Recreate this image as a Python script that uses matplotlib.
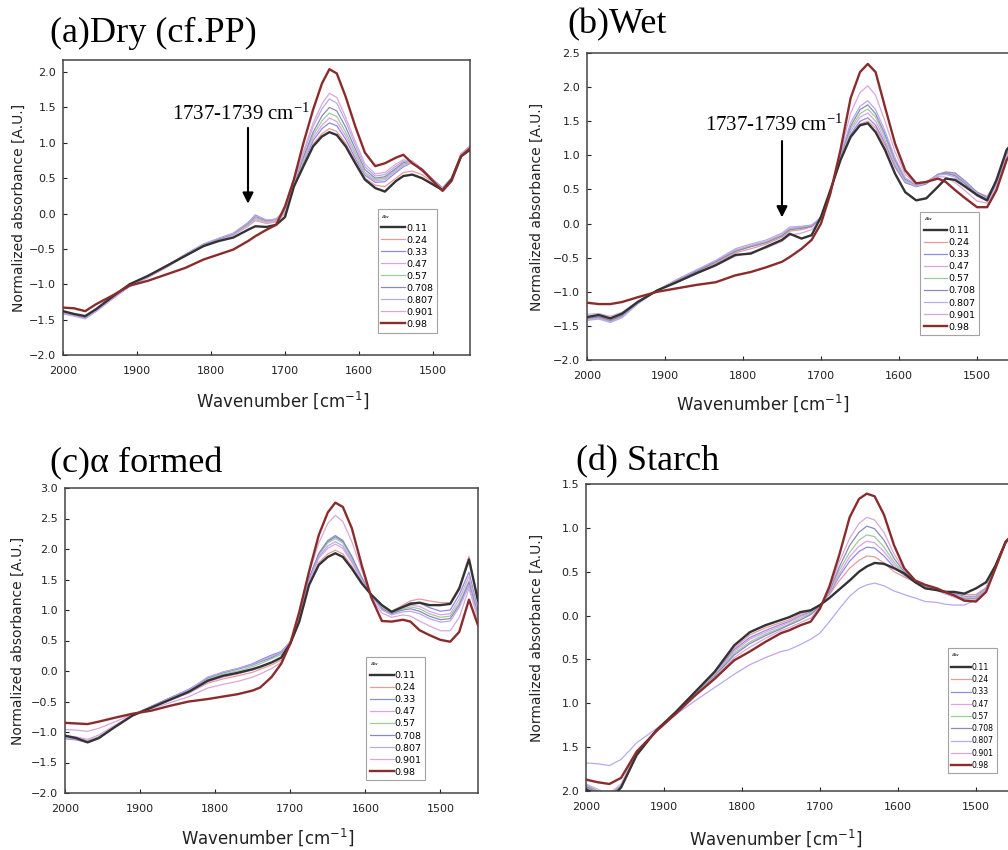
import matplotlib
matplotlib.use("Agg")
import matplotlib.pyplot as plt
from matplotlib.ticker import FuncFormatter

# shared wavenumber grid [cm-1]
wavenumber = [2000, 1985, 1970, 1955, 1935, 1910, 1885, 1860, 1835, 1810, 1790, 1770,
              1750, 1740, 1725, 1712, 1700, 1688, 1675, 1662, 1650, 1640, 1630, 1618,
              1605, 1592, 1578, 1565, 1550, 1540, 1528, 1515, 1500, 1487, 1475, 1462, 1450]

aw_labels = ["0.11", "0.24", "0.33", "0.47", "0.57", "0.708", "0.807", "0.901", "0.98"]
aw_colors = ["#333333", "#e89a9a", "#8c8ce0", "#e0a0e8", "#9ccc9c",
             "#8a8ab8", "#b8a8f0", "#d8a8d8", "#8b2c2c"]

# (a) Dry, one row per water activity
dry = [
    [-1.38, -1.42, -1.45, -1.35, -1.19, -1.00, -0.88, -0.74, -0.60, -0.46, -0.39, -0.34, -0.23, -0.18, -0.19, -0.16, -0.05,
     0.38, 0.67, 0.95, 1.09, 1.15, 1.11, 0.95, 0.71, 0.48, 0.36, 0.31, 0.46, 0.53, 0.55, 0.50, 0.41, 0.33, 0.48, 0.81, 0.90],
    [-1.40, -1.43, -1.46, -1.37, -1.21, -1.02, -0.90, -0.76, -0.60, -0.46, -0.38, -0.30, -0.18, -0.10, -0.14, -0.12, 0.00,
     0.39, 0.69, 0.98, 1.13, 1.20, 1.16, 0.99, 0.74, 0.50, 0.40, 0.38, 0.50, 0.58, 0.60, 0.55, 0.44, 0.34, 0.48, 0.82, 0.92],
    [-1.41, -1.44, -1.48, -1.38, -1.22, -1.03, -0.90, -0.75, -0.58, -0.43, -0.36, -0.28, -0.13, -0.02, -0.10, -0.08, 0.04,
     0.40, 0.72, 1.03, 1.20, 1.28, 1.24, 1.05, 0.78, 0.54, 0.44, 0.45, 0.58, 0.66, 0.72, 0.60, 0.46, 0.36, 0.50, 0.84, 0.95],
    [-1.40, -1.43, -1.47, -1.37, -1.21, -1.02, -0.90, -0.75, -0.59, -0.44, -0.37, -0.29, -0.15, -0.06, -0.11, -0.09, 0.03,
     0.41, 0.74, 1.07, 1.25, 1.35, 1.30, 1.10, 0.82, 0.56, 0.46, 0.48, 0.60, 0.68, 0.72, 0.62, 0.47, 0.36, 0.50, 0.83, 0.94],
    [-1.39, -1.43, -1.46, -1.36, -1.20, -1.02, -0.89, -0.75, -0.59, -0.45, -0.37, -0.30, -0.16, -0.07, -0.12, -0.10, 0.02,
     0.41, 0.77, 1.11, 1.31, 1.42, 1.37, 1.15, 0.86, 0.58, 0.48, 0.50, 0.62, 0.70, 0.72, 0.62, 0.47, 0.36, 0.50, 0.84, 0.95],
    [-1.41, -1.44, -1.47, -1.37, -1.21, -1.02, -0.89, -0.74, -0.58, -0.44, -0.36, -0.29, -0.14, -0.04, -0.10, -0.08, 0.04,
     0.42, 0.80, 1.15, 1.38, 1.50, 1.45, 1.22, 0.91, 0.62, 0.50, 0.52, 0.64, 0.72, 0.74, 0.63, 0.48, 0.36, 0.50, 0.84, 0.95],
    [-1.42, -1.45, -1.49, -1.38, -1.22, -1.03, -0.90, -0.75, -0.58, -0.43, -0.35, -0.28, -0.13, -0.03, -0.09, -0.08, 0.05,
     0.43, 0.85, 1.23, 1.48, 1.62, 1.56, 1.30, 0.97, 0.66, 0.53, 0.55, 0.67, 0.74, 0.74, 0.63, 0.48, 0.35, 0.49, 0.84, 0.95],
    [-1.40, -1.43, -1.46, -1.36, -1.20, -1.02, -0.90, -0.76, -0.60, -0.46, -0.38, -0.31, -0.18, -0.09, -0.13, -0.11, 0.03,
     0.44, 0.88, 1.28, 1.55, 1.70, 1.64, 1.36, 1.02, 0.70, 0.56, 0.58, 0.70, 0.76, 0.73, 0.63, 0.47, 0.35, 0.49, 0.83, 0.94],
    [-1.33, -1.34, -1.38, -1.28, -1.17, -1.02, -0.95, -0.86, -0.77, -0.65, -0.58, -0.51, -0.39, -0.32, -0.23, -0.16, 0.10,
     0.48, 1.00, 1.47, 1.84, 2.04, 1.98, 1.65, 1.23, 0.86, 0.67, 0.71, 0.79, 0.83, 0.71, 0.62, 0.46, 0.32, 0.46, 0.81, 0.92],
]

# (b) Wet
wet = [
    [-1.37, -1.34, -1.39, -1.32, -1.15, -0.98, -0.86, -0.73, -0.61, -0.46, -0.44, -0.34, -0.24, -0.15, -0.22, -0.17, 0.10,
     0.49, 0.93, 1.27, 1.44, 1.47, 1.34, 1.08, 0.73, 0.46, 0.34, 0.37, 0.54, 0.66, 0.64, 0.54, 0.42, 0.34, 0.64, 1.08, 1.25],
    [-1.38, -1.36, -1.41, -1.34, -1.16, -0.98, -0.84, -0.71, -0.58, -0.43, -0.37, -0.30, -0.20, -0.11, -0.09, -0.05, 0.07,
     0.48, 0.93, 1.28, 1.46, 1.50, 1.40, 1.14, 0.82, 0.60, 0.55, 0.60, 0.72, 0.76, 0.74, 0.62, 0.46, 0.40, 0.62, 1.05, 1.22],
    [-1.40, -1.38, -1.43, -1.36, -1.17, -0.98, -0.83, -0.70, -0.56, -0.40, -0.33, -0.27, -0.17, -0.08, -0.06, -0.03, 0.08,
     0.47, 0.94, 1.31, 1.50, 1.55, 1.44, 1.18, 0.84, 0.60, 0.54, 0.58, 0.72, 0.75, 0.74, 0.62, 0.46, 0.38, 0.62, 1.05, 1.22],
    [-1.41, -1.39, -1.44, -1.37, -1.17, -0.98, -0.83, -0.69, -0.55, -0.39, -0.32, -0.26, -0.16, -0.07, -0.05, -0.03, 0.08,
     0.47, 0.96, 1.35, 1.56, 1.62, 1.50, 1.22, 0.87, 0.62, 0.55, 0.60, 0.72, 0.74, 0.72, 0.60, 0.44, 0.36, 0.60, 1.04, 1.21],
    [-1.40, -1.38, -1.43, -1.36, -1.17, -0.98, -0.83, -0.70, -0.56, -0.40, -0.33, -0.27, -0.17, -0.08, -0.06, -0.03, 0.08,
     0.47, 0.98, 1.39, 1.61, 1.68, 1.56, 1.27, 0.90, 0.63, 0.56, 0.60, 0.72, 0.74, 0.71, 0.59, 0.43, 0.35, 0.59, 1.03, 1.20],
    [-1.39, -1.37, -1.42, -1.35, -1.16, -0.98, -0.83, -0.70, -0.56, -0.41, -0.34, -0.28, -0.18, -0.09, -0.07, -0.04, 0.08,
     0.46, 0.99, 1.43, 1.67, 1.74, 1.61, 1.31, 0.93, 0.65, 0.57, 0.61, 0.72, 0.74, 0.70, 0.58, 0.42, 0.35, 0.58, 1.02, 1.20],
    [-1.42, -1.40, -1.45, -1.38, -1.18, -0.98, -0.82, -0.68, -0.54, -0.37, -0.30, -0.24, -0.14, -0.05, -0.04, -0.02, 0.09,
     0.46, 1.01, 1.48, 1.72, 1.80, 1.67, 1.36, 0.96, 0.67, 0.57, 0.61, 0.71, 0.72, 0.68, 0.55, 0.40, 0.33, 0.56, 1.00, 1.18],
    [-1.33, -1.32, -1.36, -1.30, -1.14, -0.98, -0.86, -0.74, -0.62, -0.48, -0.42, -0.36, -0.26, -0.17, -0.14, -0.09, 0.05,
     0.45, 1.04, 1.62, 1.92, 2.02, 1.88, 1.50, 1.05, 0.72, 0.58, 0.61, 0.69, 0.68, 0.60, 0.48, 0.33, 0.30, 0.52, 0.97, 1.16],
    [-1.16, -1.18, -1.18, -1.15, -1.08, -1.00, -0.95, -0.90, -0.86, -0.76, -0.71, -0.64, -0.56, -0.49, -0.37, -0.24, 0.00,
     0.44, 1.08, 1.84, 2.22, 2.34, 2.22, 1.71, 1.17, 0.78, 0.59, 0.61, 0.66, 0.61, 0.49, 0.37, 0.24, 0.24, 0.49, 0.93, 1.15],
]

# (c) alpha formed
alpha_formed = [
    [-1.06, -1.10, -1.17, -1.10, -0.93, -0.73, -0.60, -0.47, -0.34, -0.16, -0.08, -0.03, 0.03, 0.07, 0.14, 0.22, 0.45,
     0.81, 1.41, 1.74, 1.87, 1.93, 1.87, 1.68, 1.44, 1.25, 1.08, 0.97, 1.05, 1.10, 1.12, 1.08, 1.08, 1.10, 1.35, 1.83, 1.15],
    [-1.08, -1.10, -1.14, -1.08, -0.92, -0.73, -0.60, -0.47, -0.36, -0.20, -0.13, -0.08, -0.02, 0.03, 0.10, 0.18, 0.43,
     0.83, 1.42, 1.78, 1.92, 1.98, 1.92, 1.72, 1.46, 1.24, 1.06, 0.98, 1.08, 1.15, 1.18, 1.15, 1.12, 1.12, 1.38, 1.88, 1.15],
    [-1.10, -1.12, -1.17, -1.10, -0.93, -0.72, -0.58, -0.44, -0.30, -0.12, -0.02, 0.04, 0.12, 0.18, 0.26, 0.32, 0.48,
     0.86, 1.50, 1.92, 2.12, 2.20, 2.12, 1.86, 1.52, 1.24, 1.04, 0.97, 1.06, 1.12, 1.12, 1.04, 0.98, 1.00, 1.25, 1.62, 1.00],
    [-1.06, -1.08, -1.12, -1.05, -0.90, -0.72, -0.60, -0.48, -0.36, -0.18, -0.10, -0.05, 0.02, 0.06, 0.14, 0.22, 0.45,
     0.85, 1.46, 1.85, 2.01, 2.08, 2.01, 1.78, 1.48, 1.24, 1.04, 0.96, 1.04, 1.08, 1.06, 0.98, 0.92, 0.94, 1.18, 1.55, 0.95],
    [-1.09, -1.11, -1.15, -1.08, -0.92, -0.72, -0.59, -0.46, -0.33, -0.14, -0.05, 0.00, 0.07, 0.12, 0.20, 0.27, 0.46,
     0.86, 1.50, 1.90, 2.10, 2.17, 2.10, 1.84, 1.52, 1.24, 1.03, 0.95, 1.02, 1.05, 1.02, 0.94, 0.88, 0.90, 1.12, 1.48, 0.92],
    [-1.11, -1.13, -1.17, -1.10, -0.93, -0.72, -0.58, -0.44, -0.31, -0.11, -0.03, 0.03, 0.10, 0.15, 0.22, 0.30, 0.47,
     0.87, 1.52, 1.93, 2.14, 2.22, 2.14, 1.88, 1.54, 1.24, 1.02, 0.94, 1.00, 1.02, 0.98, 0.90, 0.84, 0.86, 1.08, 1.45, 0.90],
    [-1.10, -1.12, -1.16, -1.09, -0.92, -0.72, -0.58, -0.45, -0.31, -0.10, -0.02, 0.04, 0.11, 0.16, 0.24, 0.31, 0.48,
     0.86, 1.48, 1.87, 2.05, 2.12, 2.05, 1.80, 1.50, 1.23, 1.00, 0.92, 0.97, 0.98, 0.94, 0.86, 0.80, 0.82, 1.04, 1.40, 0.88],
    [-0.96, -0.97, -0.99, -0.94, -0.84, -0.71, -0.62, -0.52, -0.42, -0.28, -0.22, -0.17, -0.10, -0.05, 0.04, 0.14, 0.44,
     0.92, 1.60, 2.10, 2.42, 2.55, 2.45, 2.12, 1.66, 1.20, 0.95, 0.88, 0.92, 0.90, 0.82, 0.74, 0.66, 0.66, 0.88, 1.35, 0.85],
    [-0.85, -0.86, -0.87, -0.83, -0.77, -0.70, -0.65, -0.57, -0.50, -0.46, -0.42, -0.38, -0.32, -0.27, -0.10, 0.12, 0.45,
     0.97, 1.63, 2.23, 2.60, 2.76, 2.69, 2.34, 1.74, 1.20, 0.82, 0.81, 0.84, 0.81, 0.67, 0.59, 0.51, 0.48, 0.64, 1.17, 0.75],
]

# (d) Starch
starch = [
    [-1.98, -2.05, -2.10, -1.96, -1.59, -1.31, -1.10, -0.87, -0.64, -0.34, -0.19, -0.11, -0.05, -0.02, 0.04, 0.06, 0.12,
     0.20, 0.30, 0.40, 0.50, 0.56, 0.60, 0.59, 0.54, 0.48, 0.38, 0.31, 0.29, 0.27, 0.27, 0.25, 0.31, 0.38, 0.57, 0.84, 0.95],
    [-1.95, -2.02, -2.07, -1.94, -1.58, -1.31, -1.10, -0.87, -0.65, -0.37, -0.22, -0.14, -0.08, -0.05, 0.02, 0.05, 0.12,
     0.24, 0.40, 0.54, 0.63, 0.68, 0.67, 0.60, 0.50, 0.44, 0.38, 0.33, 0.30, 0.28, 0.26, 0.24, 0.24, 0.32, 0.58, 0.84, 0.95],
    [-1.93, -2.00, -2.05, -1.93, -1.58, -1.31, -1.11, -0.88, -0.66, -0.39, -0.25, -0.17, -0.10, -0.07, 0.00, 0.04, 0.12,
     0.25, 0.45, 0.62, 0.73, 0.78, 0.77, 0.68, 0.55, 0.46, 0.38, 0.33, 0.30, 0.27, 0.25, 0.22, 0.22, 0.31, 0.57, 0.84, 0.95],
    [-1.96, -2.03, -2.08, -1.95, -1.58, -1.31, -1.11, -0.88, -0.67, -0.41, -0.27, -0.19, -0.12, -0.08, -0.01, 0.03, 0.11,
     0.26, 0.48, 0.67, 0.79, 0.85, 0.83, 0.73, 0.58, 0.47, 0.38, 0.33, 0.29, 0.26, 0.24, 0.21, 0.21, 0.30, 0.56, 0.84, 0.95],
    [-1.94, -2.01, -2.06, -1.94, -1.57, -1.31, -1.11, -0.89, -0.68, -0.43, -0.30, -0.21, -0.14, -0.10, -0.03, 0.02, 0.11,
     0.27, 0.52, 0.72, 0.86, 0.92, 0.90, 0.78, 0.61, 0.48, 0.39, 0.33, 0.29, 0.26, 0.23, 0.20, 0.20, 0.30, 0.56, 0.84, 0.95],
    [-1.95, -2.02, -2.07, -1.95, -1.57, -1.31, -1.11, -0.89, -0.69, -0.45, -0.32, -0.23, -0.15, -0.11, -0.05, 0.01, 0.10,
     0.28, 0.56, 0.80, 0.95, 1.02, 0.99, 0.86, 0.65, 0.50, 0.39, 0.33, 0.29, 0.25, 0.22, 0.19, 0.19, 0.29, 0.55, 0.84, 0.95],
    [-1.68, -1.69, -1.71, -1.64, -1.45, -1.29, -1.13, -0.97, -0.82, -0.67, -0.56, -0.48, -0.41, -0.39, -0.33, -0.27, -0.20,
     -0.07, 0.08, 0.22, 0.31, 0.35, 0.37, 0.34, 0.28, 0.24, 0.20, 0.16, 0.15, 0.13, 0.12, 0.12, 0.18, 0.30, 0.55, 0.82, 0.95],
    [-1.92, -1.98, -2.03, -1.92, -1.56, -1.31, -1.12, -0.90, -0.70, -0.48, -0.36, -0.26, -0.17, -0.14, -0.08, -0.03, 0.09,
     0.30, 0.62, 0.88, 1.05, 1.12, 1.09, 0.95, 0.70, 0.52, 0.40, 0.34, 0.29, 0.25, 0.21, 0.17, 0.17, 0.28, 0.55, 0.84, 0.95],
    [-1.87, -1.90, -1.92, -1.85, -1.55, -1.32, -1.12, -0.91, -0.72, -0.51, -0.41, -0.30, -0.20, -0.17, -0.11, -0.07, 0.08,
     0.33, 0.70, 1.12, 1.33, 1.39, 1.36, 1.15, 0.80, 0.54, 0.40, 0.35, 0.31, 0.27, 0.23, 0.17, 0.16, 0.27, 0.54, 0.84, 0.95],
]

W, H = 1008, 850
fig = plt.figure(figsize=(W / 100, H / 100), dpi=100)


def px_axes(x0, y0, x1, y1):
    return fig.add_axes([x0 / W, (H - y1) / H, (x1 - x0) / W, (y1 - y0) / H])


# box in pixels, y top, title, title pos, ylabel x, xlabel coords, legend anchor, legend font, spacing
panels = [
    (dry, (63, 60, 470, 355), 2.17, "(a)Dry (cf.PP)", (50, 42), -0.108, (0.54, -0.153), (0.93, 0.06), 6.8, 0.32),
    (wet, (587, 53, 1016, 360), 2.5, "(b)Wet", (567, 33), -0.117, (0.41, -0.14), (0.925, 0.065), 6.8, 0.32),
    (alpha_formed, (65, 488, 478, 793), 3.0, "(c)\u03b1 formed", (50, 472), -0.114, (0.49, -0.144), (0.884, 0.026), 6.8, 0.32),
    (starch, (586, 484, 1015, 791), 1.5, "(d) Starch", (576, 470), -0.114, (0.443, -0.153), (0.967, 0.046), 5.6, 0.42),
]

axes = []
for data, box, ytop, title, tpos, ylx, xlc, leg_anchor, leg_fs, leg_sp in panels:
    ax = px_axes(*box)
    axes.append(ax)
    for i, (row, lab, col) in enumerate(zip(data, aw_labels, aw_colors)):
        thick = i in (0, len(aw_labels) - 1)
        ax.plot(wavenumber, row, color=col, lw=1.7 if thick else 0.9,
                zorder=3 if thick else 2, label=lab)
    ax.set_xlim(2000, 1450)
    ax.set_ylim(-2.0, ytop)
    ax.set_xticks([2000, 1900, 1800, 1700, 1600, 1500])
    yt = [-2.0 + 0.5 * k for k in range(int(round((ytop + 2.0) / 0.5)) + 1) if -2.0 + 0.5 * k <= ytop + 1e-9]
    ax.set_yticks(yt)
    ax.tick_params(direction="in", length=3, width=0.8, labelsize=8, colors="#222222")
    ax.tick_params(axis="x", pad=8)
    ax.tick_params(axis="y", pad=5)
    for sp in ax.spines.values():
        sp.set_linewidth(1.1)
        sp.set_color("#444444")
    ax.set_ylabel("Normalized absorbance [A.U.]", fontsize=10, color="#222222", va="center")
    ax.yaxis.set_label_coords(ylx, 0.5)
    ax.set_xlabel("Wavenumber [cm$^{-1}$]", fontsize=12, color="#222222", va="center")
    ax.xaxis.set_label_coords(*xlc)
    leg = ax.legend(loc="lower right", bbox_to_anchor=leg_anchor, fontsize=leg_fs,
                    title="$a_w$", title_fontsize=4.5, alignment="left",
                    labelspacing=leg_sp, handlelength=2.5, handletextpad=0.1,
                    borderpad=0.4, fancybox=False, framealpha=0.9, edgecolor="#999999")
    leg.get_frame().set_linewidth(0.8)
    fig.text(tpos[0] / W, 1 - tpos[1] / H, title, family="Liberation Serif",
             fontsize=26, va="baseline", ha="left")

# starch panel shows the lower labels without minus signs
axes[3].yaxis.set_major_formatter(FuncFormatter(lambda v, p: f"{abs(v):.1f}"))

# carbonyl band arrows
for ax, tip, tail, txt in [(axes[0], 0.1, 1.25, 1.33), (axes[1], 0.05, 1.25, 1.36)]:
    ax.annotate("", xy=(1750, tip), xytext=(1750, tail),
                arrowprops=dict(arrowstyle="-|>", color="black", lw=1.5, mutation_scale=16))
    ax.text(1760, txt, "1737-1739 cm$\\mathregular{^{-1}}$", family="Liberation Serif",
            fontsize=15, ha="center", va="baseline")

fig.savefig("out.png", dpi=100)
